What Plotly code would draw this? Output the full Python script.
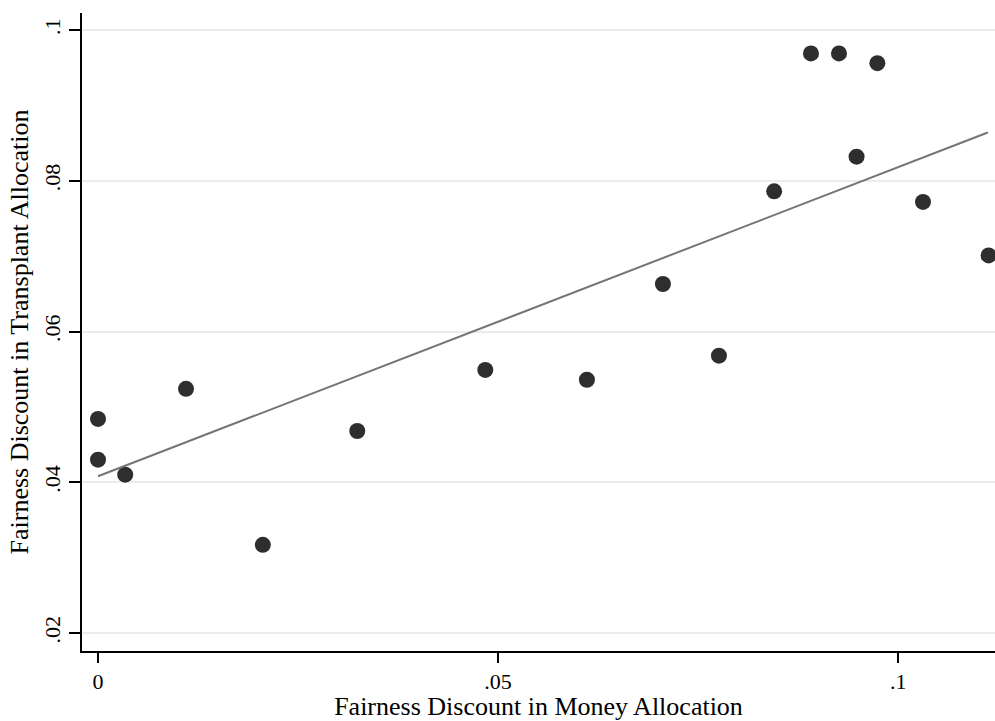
import plotly.graph_objects as go

money = [0.0, 0.0, 0.0034, 0.0110, 0.0206, 0.0324, 0.0484, 0.0611, 0.0706,
         0.0776, 0.0845, 0.0891, 0.0926, 0.0948, 0.0974, 0.1031, 0.1113]
transplant = [0.0484, 0.0430, 0.0410, 0.0524, 0.0317, 0.0468, 0.0549, 0.0536, 0.0663,
              0.0568, 0.0786, 0.0969, 0.0969, 0.0832, 0.0956, 0.0772, 0.0701]

# linear fit line
fit_x = [0.0, 0.1112]
fit_y = [0.0408, 0.0864]

x_ticks = [0, 0.05, 0.1]
x_tick_labels = ["0", ".05", ".1"]
y_ticks = [0.02, 0.04, 0.06, 0.08, 0.1]
y_tick_labels = [".02", ".04", ".06", ".08", ".1"]

font = "Liberation Serif"

fig = go.Figure()
fig.add_trace(go.Scatter(x=money, y=transplant, mode="markers",
                         marker=dict(size=16, color="#2e2e2e"),
                         cliponaxis=False, showlegend=False))
fig.add_trace(go.Scatter(x=fit_x, y=fit_y, mode="lines",
                         line=dict(color="#757575", width=2),
                         showlegend=False))

fig.update_layout(
    width=995, height=721,
    margin=dict(l=82, r=0, t=13, b=70),
    paper_bgcolor="white", plot_bgcolor="white",
    font=dict(family=font, size=22, color="black"),
    xaxis=dict(range=[-0.002, 0.1121], tickvals=x_ticks, ticktext=x_tick_labels,
               showgrid=False, zeroline=False, showline=True, linecolor="black",
               linewidth=2, ticks="outside", ticklen=10, tickwidth=1.5,
               tickcolor="black",
               title=dict(text="Fairness Discount in Money Allocation", standoff=8)),
    yaxis=dict(range=[0.01761, 0.10226], tickvals=y_ticks, ticktext=y_tick_labels,
               tickangle=-90, showgrid=True, gridcolor="#ececec", gridwidth=2,
               zeroline=False, showline=True, linecolor="black", linewidth=2,
               ticks="outside", ticklen=11, tickwidth=1.5, tickcolor="black",
               ticklabelstandoff=0,
               title=dict(text="Fairness Discount in Transplant Allocation", standoff=4)),
)

fig.write_html("out.html")
